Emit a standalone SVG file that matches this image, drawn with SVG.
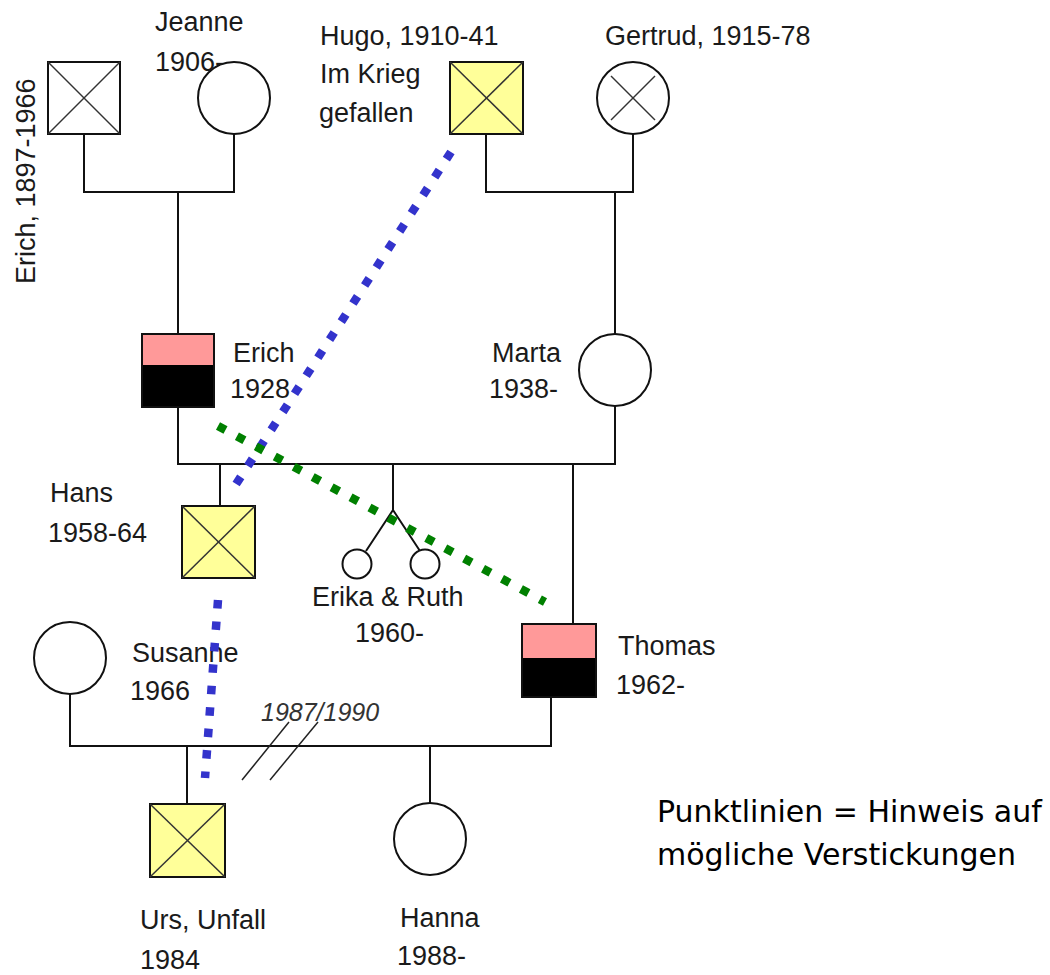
<svg xmlns="http://www.w3.org/2000/svg" width="1050" height="975" viewBox="0 0 1050 975">
<style>
.lbl{font-family:"Liberation Sans",Arial,sans-serif;font-size:27px;fill:#1a1a1a}
.leg{font-family:"DejaVu Sans",sans-serif;font-size:30px;fill:#000}
.yr{font-family:"Liberation Sans",Arial,sans-serif;font-size:25px;font-style:italic;fill:#333}
.box{stroke:#111;stroke-width:2}
.x{stroke:#333;stroke-width:1.5}
.ln{fill:none;stroke:#111;stroke-width:2}
.thin{fill:none;stroke:#222;stroke-width:1.5}
.dot{fill:none;stroke-width:8.5;stroke-dasharray:8.5 13}
</style>
<rect width="1050" height="975" fill="#fff"/>
<g id="connectors">
<polyline class="ln" points="84,134 84,192 234,192 234,134"/>
<line class="ln" x1="178" y1="192" x2="178" y2="334"/>
<polyline class="ln" points="486,134 486,192 633,192 633,134"/>
<line class="ln" x1="615" y1="192" x2="615" y2="334"/>
<polyline class="ln" points="178,407 178,464 615,464 615,406"/>
<line class="ln" x1="220" y1="464" x2="220" y2="506"/>
<line class="ln" x1="393" y1="464" x2="393" y2="510"/>
<polyline class="ln" points="366,551 393,510 420,551"/>
<line class="ln" x1="573" y1="464" x2="573" y2="624"/>
<polyline class="ln" points="70,694 70,746 551,746 551,697"/>
<line class="ln" x1="187" y1="746" x2="187" y2="804"/>
<line class="ln" x1="430" y1="746" x2="430" y2="803"/>
<line class="thin" x1="242" y1="780" x2="289" y2="722"/>
<line class="thin" x1="270" y1="780" x2="318" y2="722"/>
</g>
<g id="erich1897">
<rect class="box" x="48" y="62" width="72" height="72" fill="#fff"/>
<line class="x" x1="48" y1="62" x2="120" y2="134"/><line class="x" x1="120" y1="62" x2="48" y2="134"/>
<text class="lbl" transform="translate(35,284) rotate(-90)">Erich, 1897-1966</text>
</g>
<g id="jeanne">
<circle class="box" cx="234" cy="98" r="36" fill="#fff"/>
<text class="lbl" x="155" y="31">Jeanne</text>
<text class="lbl" x="155" y="71">1906-</text>
</g>
<g id="hugo">
<rect class="box" x="450" y="62" width="73" height="72" fill="#ffff99"/>
<line class="x" x1="450" y1="62" x2="523" y2="134"/><line class="x" x1="523" y1="62" x2="450" y2="134"/>
<text class="lbl" x="320" y="45">Hugo, 1910-41</text>
<text class="lbl" x="320" y="83">Im Krieg</text>
<text class="lbl" x="319" y="122">gefallen</text>
</g>
<g id="gertrud">
<circle class="box" cx="633" cy="98" r="36" fill="#fff"/>
<line class="x" x1="611" y1="76" x2="655" y2="120"/><line class="x" x1="655" y1="76" x2="611" y2="120"/>
<text class="lbl" x="605" y="45">Gertrud, 1915-78</text>
</g>
<g id="erich1928">
<rect x="142" y="334" width="72" height="31" fill="#ff9999"/>
<rect x="142" y="365" width="72" height="42" fill="#000"/>
<rect class="box" x="142" y="334" width="72" height="73" fill="none"/>
<text class="lbl" x="233" y="362">Erich</text>
<text class="lbl" x="230" y="398">1928</text>
</g>
<g id="marta">
<circle class="box" cx="615" cy="370" r="36" fill="#fff"/>
<text class="lbl" x="492" y="362">Marta</text>
<text class="lbl" x="489" y="398">1938-</text>
</g>
<g id="hans">
<rect class="box" x="182" y="506" width="73" height="72" fill="#ffff99"/>
<line class="x" x1="182" y1="506" x2="255" y2="578"/><line class="x" x1="255" y1="506" x2="182" y2="578"/>
<text class="lbl" x="50" y="502">Hans</text>
<text class="lbl" x="48" y="542">1958-64</text>
</g>
<g id="twins">
<circle class="box" cx="357" cy="564" r="14.5" fill="#fff"/>
<circle class="box" cx="425" cy="564" r="14.5" fill="#fff"/>
<text class="lbl" x="312" y="606">Erika &amp; Ruth</text>
<text class="lbl" x="355" y="642">1960-</text>
</g>
<g id="thomas">
<rect x="522" y="624" width="74" height="34" fill="#ff9999"/>
<rect x="522" y="658" width="74" height="39" fill="#000"/>
<rect class="box" x="522" y="624" width="74" height="73" fill="none"/>
<text class="lbl" x="618" y="655">Thomas</text>
<text class="lbl" x="616" y="694">1962-</text>
</g>
<g id="susanne">
<circle class="box" cx="70" cy="658" r="36" fill="#fff"/>
<text class="lbl" x="132" y="662">Susanne</text>
<text class="lbl" x="130" y="700">1966</text>
</g>
<g id="divorce-label">
<text class="yr" x="261" y="721">1987/1990</text>
</g>
<g id="urs">
<rect class="box" x="150" y="804" width="75" height="73" fill="#ffff99"/>
<line class="x" x1="150" y1="804" x2="225" y2="877"/><line class="x" x1="225" y1="804" x2="150" y2="877"/>
<text class="lbl" x="140" y="929">Urs, Unfall</text>
<text class="lbl" x="140" y="969">1984</text>
</g>
<g id="hanna">
<circle class="box" cx="430" cy="839" r="36" fill="#fff"/>
<text class="lbl" x="400" y="927">Hanna</text>
<text class="lbl" x="397" y="965">1988-</text>
</g>
<g id="dotted-lines">
<line class="dot" stroke="#3333cc" x1="451" y1="152" x2="231" y2="492"/>
<line class="dot" stroke="#3333cc" x1="218" y1="600" x2="205" y2="778"/>
<line class="dot" stroke="#008000" x1="218" y1="426" x2="545" y2="602"/>
</g>
<g id="legend">
<text class="leg" x="657" y="822">Punktlinien = Hinweis auf</text>
<text class="leg" x="657" y="865">mögliche Verstickungen</text>
</g>
</svg>
